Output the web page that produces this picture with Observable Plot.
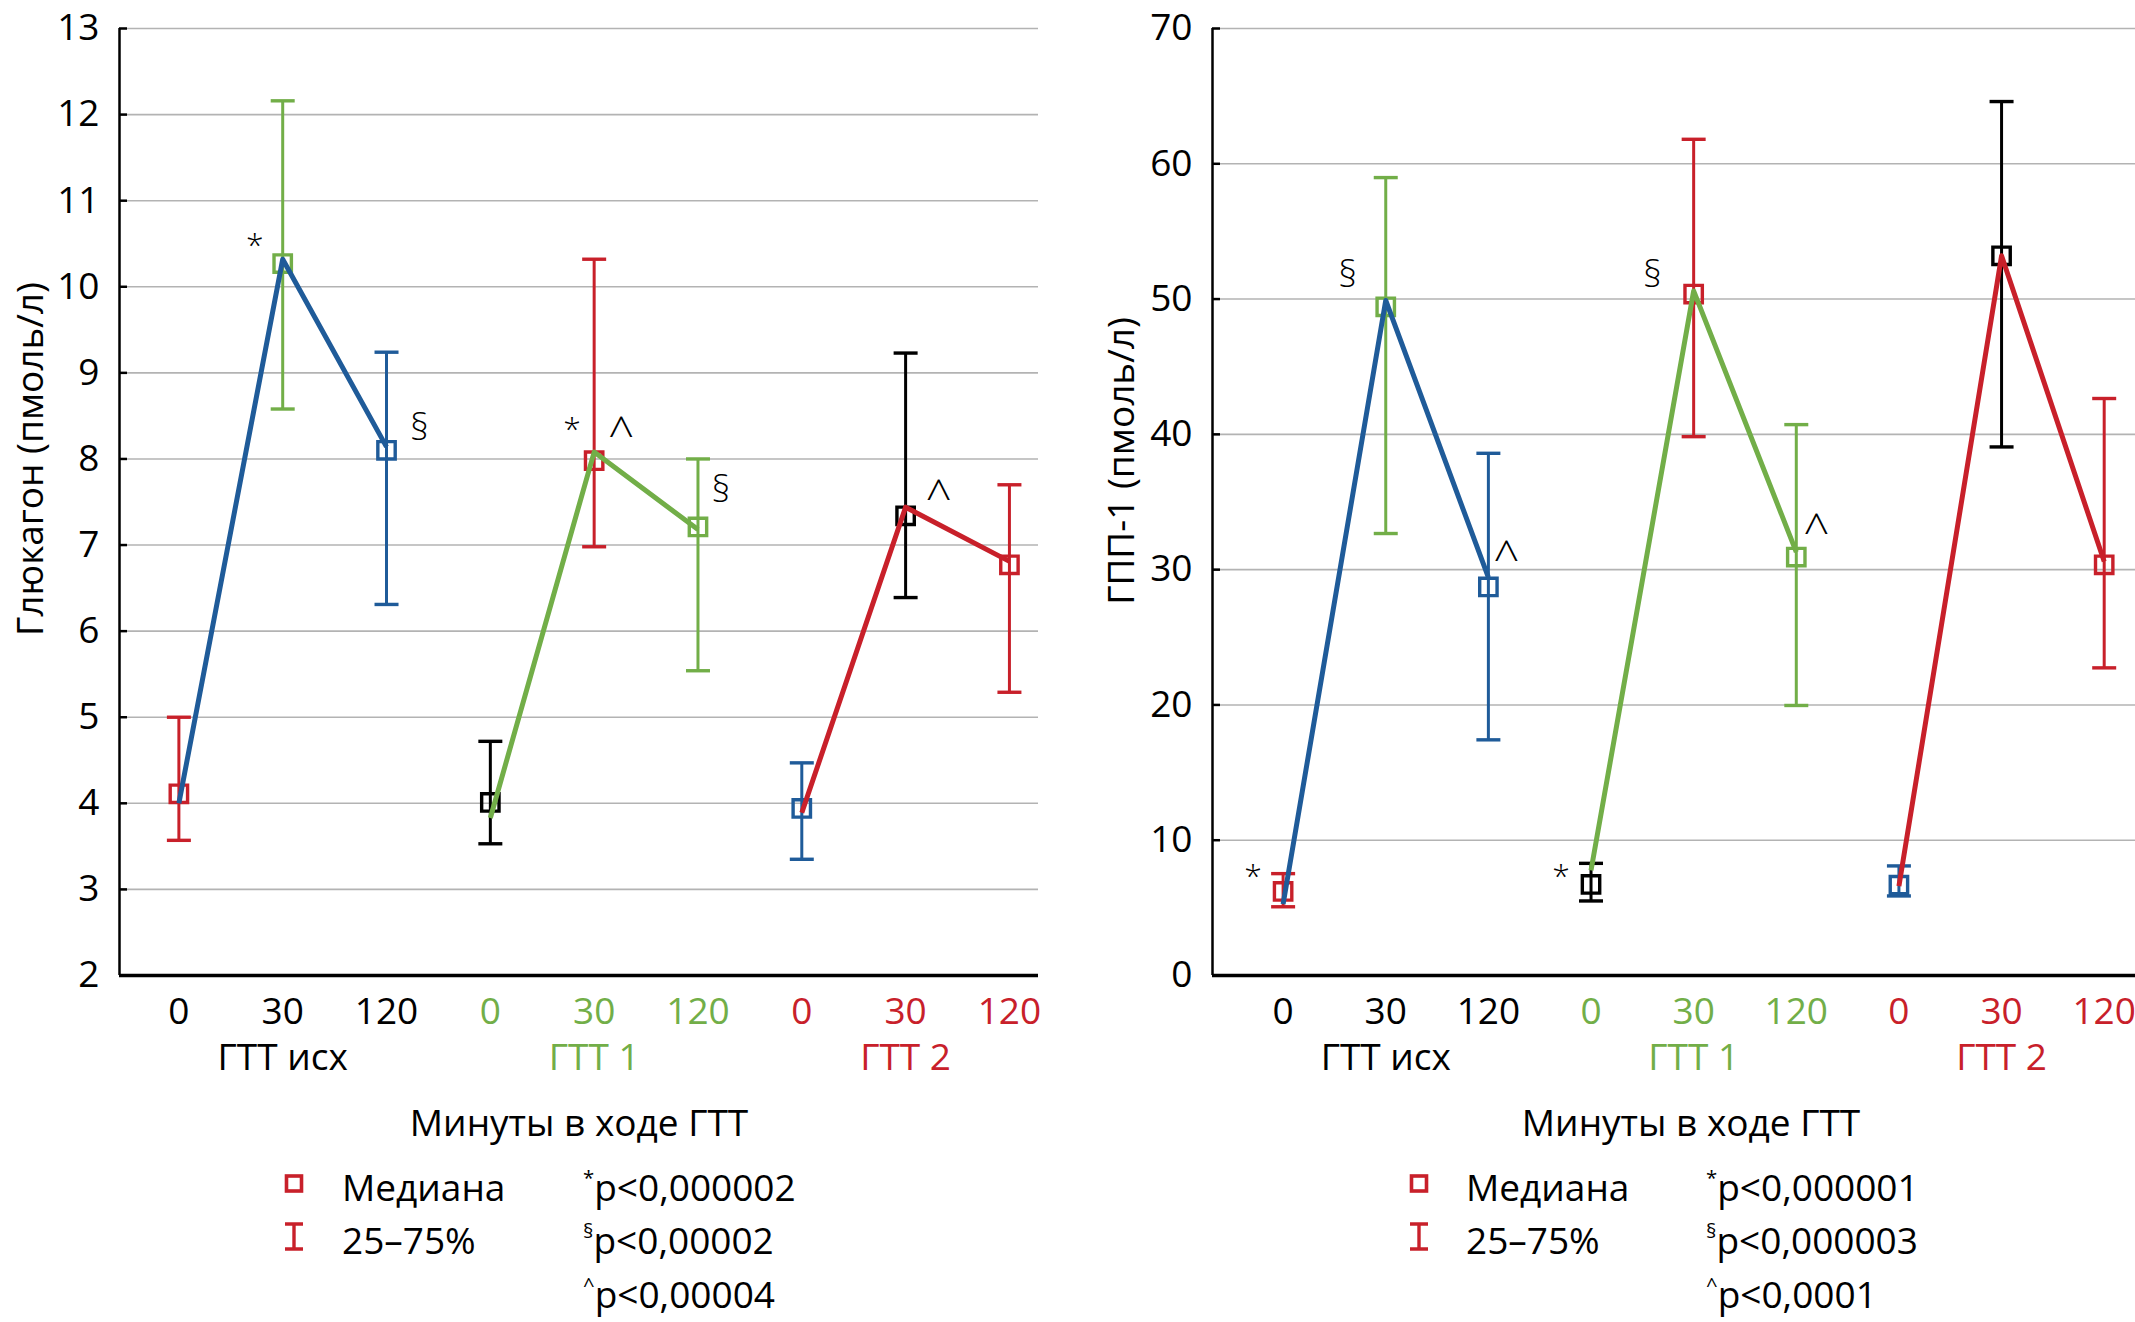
<!DOCTYPE html>
<html><head><meta charset="utf-8">
<script src="https://cdn.jsdelivr.net/npm/d3@7"></script>
<script src="https://cdn.jsdelivr.net/npm/@observablehq/plot@0.6"></script>
<style>
html,body{margin:0;padding:0;background:#fff;}
#root{position:relative;width:2135px;height:1322px;font-family:"Open Sans",sans-serif;color:#000;overflow:hidden;background:#fff;}
.panel{position:absolute;top:0;}
.t{position:absolute;font-size:37px;line-height:1;white-space:nowrap;transform:translateY(-50%);}
.c{transform:translate(-50%,-50%);}
sup{font-size:0.55em;vertical-align:0.75em;line-height:0;}
.ico{position:absolute;transform:translate(-50%,-50%);}
</style></head><body><div id="root"></div>
<script>
// ---------- data ----------
const groups = ["ГТТ исх", "ГТТ 1", "ГТТ 2"];
const minutes = ["0", "30", "120"];
const groupColors = ["#1f5b99", "#72ae48", "#c8202a"];
const labelColors = ["#000000", "#72ae48", "#c8202a"];
const pointColors = ["#c8202a", "#72ae48", "#1f5b99", "#000000", "#c8202a", "#72ae48", "#1f5b99", "#000000", "#c8202a"];

const glucagonMedian = [4.11, 10.27, 8.10, 4.01, 7.98, 7.21, 3.94, 7.34, 6.77];
const glucagonQ1     = [3.57, 8.58, 6.31, 3.53, 6.98, 5.54, 3.35, 6.39, 5.29];
const glucagonQ3     = [5.00, 12.16, 9.24, 4.72, 10.32, 8.00, 4.47, 9.23, 7.70];
const glucagonLine   = [4.00, 10.32, 8.14, 3.83, 8.08, 7.18, 3.89, 7.44, 6.81];
const glucagonTicks  = [2, 3, 4, 5, 6, 7, 8, 9, 10, 11, 12, 13];
const glucagonMarks  = [
  {i: 1, y: 10.57, s: "*"}, {i: 2, y: 8.36, s: "§"},
  {i: 4, y: 8.43, s: "*"}, {i: 4, y: 8.40, s: "^"},
  {i: 5, y: 7.64, s: "§"}, {i: 7, y: 7.67, s: "^"}
];

const glpMedian = [6.21, 49.43, 28.72, 6.73, 50.37, 30.93, 6.68, 53.2, 30.36];
const glpQ1     = [5.08, 32.67, 17.42, 5.51, 39.83, 19.96, 5.88, 39.07, 22.74];
const glpQ3     = [7.53, 58.98, 38.60, 8.29, 61.81, 40.72, 8.10, 64.6, 42.65];
const glpLine   = [5.27, 49.9, 29.42, 7.77, 50.6, 31.3, 6.6, 53.2, 30.6];
const glpTicks  = [0, 10, 20, 30, 40, 50, 60, 70];
const glpMarks  = [
  {i: 0, y: 7.9, s: "*"}, {i: 1, y: 51.75, s: "§"},
  {i: 2, y: 31.57, s: "^"}, {i: 3, y: 7.9, s: "*"},
  {i: 4, y: 51.75, s: "§"}, {i: 5, y: 33.6, s: "^"}
];

const xTitle = "Минуты в ходе ГТТ";
const legendLabels = ["Медиана", "25–75%"];
const glucagonP = [["*", "p<0,000002"], ["§", "p<0,00002"], ["^", "p<0,00004"]];
const glpP      = [["*", "p<0,000001"], ["§", "p<0,000003"], ["^", "p<0,0001"]];

// ---------- layout (styling only) ----------
const H = 1095, FRAME_BOTTOM = 975, MT = 28;
const glucagonDx = [-28, 33, -22, 27, 23, 33];
const glpDx = [-30, -38, 18, -30, -41, 20];
const glyphDy = {"*": 8, "§": 0, "^": 11};
const glyphSize = {"*": 32, "§": 37, "^": 46};

const root = document.getElementById("root");

function rowsOf(med, q1, q3, line) {
  return med.map((m, i) => ({i, g: Math.floor(i / 3), median: m, q1: q1[i], q3: q3[i], line: line[i], color: pointColors[i], gcolor: groupColors[Math.floor(i / 3)]}));
}

const capSymbol = {draw(ctx, size) { const w = Math.sqrt(size / Math.PI); ctx.moveTo(-w, 0); ctx.lineTo(w, 0); }};

function panel(cfg) {
  const rows = rowsOf(cfg.median, cfg.q1, cfg.q3, cfg.line);
  const frameW = cfg.width - cfg.marginLeft - cfg.marginRight;
  const groupRows = groups.map((name, g) => ({name, g, i: 3 * g + 1}));
  const annotMarks = cfg.marks.map((a, k) => Plot.text([a], {
    x: "i", y: "y", text: "s", dx: cfg.dx[k], dy: glyphDy[a.s], fontSize: glyphSize[a.s], fontWeight: 300, fill: "#000", lineAnchor: "middle"
  }));
  const chart = Plot.plot({
    width: cfg.width, height: H,
    marginLeft: cfg.marginLeft, marginRight: cfg.marginRight,
    marginTop: MT, marginBottom: H - FRAME_BOTTOM,
    style: {fontFamily: "Open Sans", fontSize: "37px", background: "transparent", overflow: "visible"},
    x: {type: "linear", domain: cfg.xDomain, axis: null},
    y: {domain: cfg.yDomain},
    color: {type: "identity"},
    marks: [
      Plot.ruleY(cfg.ticks, {stroke: "#b3b3b3", strokeWidth: 1.6}),
      Plot.tickY(cfg.ticks, {y: d => d, insetRight: frameW - 8, stroke: "#000", strokeWidth: 2.5}),
      Plot.axisY({ticks: cfg.ticks, tickSize: 0, tickPadding: 20, fontSize: 37, label: null}),
      Plot.ruleX([cfg.xDomain[0]], {stroke: "#000", strokeWidth: 2.5}),
      Plot.ruleY([cfg.yDomain[0]], {stroke: "#000", strokeWidth: 3.5}),
      Plot.ruleX(rows, {x: "i", y1: "q1", y2: "q3", stroke: "color", strokeWidth: 3}),
      Plot.dot(rows, {x: "i", y: "q1", symbol: capSymbol, r: 12, stroke: "color", fill: "none", strokeWidth: 3.4}),
      Plot.dot(rows, {x: "i", y: "q3", symbol: capSymbol, r: 12, stroke: "color", fill: "none", strokeWidth: 3.4}),
      Plot.dot(rows, {x: "i", y: "median", symbol: "square", r: 9.8, stroke: "color", fill: "none", strokeWidth: 3.4}),
      Plot.line(rows, {x: "i", y: "line", z: "g", stroke: "gcolor", strokeWidth: 5, strokeLinecap: "butt"}),
      ...annotMarks,
      Plot.text(rows, {x: "i", frameAnchor: "bottom", text: d => minutes[d.i % 3], fill: d => labelColors[d.g], dy: 37, fontSize: 37, lineAnchor: "middle"}),
      Plot.text(groupRows, {x: "i", frameAnchor: "bottom", text: "name", fill: d => labelColors[d.g], dy: 83, fontSize: 37, lineAnchor: "middle"}),
      Plot.text([cfg.yLabel], {frameAnchor: "left", textAnchor: "middle", lineAnchor: "middle", text: d => d, rotate: -90, dx: cfg.labelDx, dy: cfg.labelDy, fontSize: 37, fill: "#000"})
    ]
  });
  const wrap = document.createElement("div");
  wrap.className = "panel";
  wrap.style.left = cfg.left + "px";
  wrap.appendChild(chart);
  root.appendChild(wrap);
}

function text(html, x, y, cls) {
  const d = document.createElement("div");
  d.className = "t" + (cls ? " " + cls : "");
  d.style.left = x + "px"; d.style.top = y + "px";
  d.innerHTML = html;
  root.appendChild(d);
}
function icon(svg, x, y) {
  const d = document.createElement("div");
  d.className = "ico";
  d.style.left = x + "px"; d.style.top = y + "px";
  d.innerHTML = svg;
  root.appendChild(d);
}

function legend(cfg) {
  text(xTitle, cfg.titleX, 1121, "c");
  const red = groupColors[2];
  icon(`<svg width="20" height="20"><rect x="2.5" y="2.5" width="15" height="15" fill="none" stroke="${red}" stroke-width="3.6"/></svg>`, cfg.iconX, 1186);
  icon(`<svg width="22" height="30"><line x1="11" y1="2" x2="11" y2="28" stroke="${red}" stroke-width="3.4"/><line x1="2" y1="2.5" x2="20" y2="2.5" stroke="${red}" stroke-width="3.6"/><line x1="2" y1="27.5" x2="20" y2="27.5" stroke="${red}" stroke-width="3.6"/></svg>`, cfg.iconX, 1239);
  text(legendLabels[0], cfg.textX, 1186);
  text(legendLabels[1], cfg.textX, 1239);
  const ys = [1186, 1239, 1293];
  cfg.p.forEach(([s, t], k) => text(`<sup>${s}</sup>${t}`, cfg.pX, ys[k]));
}

panel({left: 0, width: 1070, marginLeft: 119, marginRight: 32, xDomain: [-0.572, 8.28], yDomain: [2, 13],
  ticks: glucagonTicks, median: glucagonMedian, q1: glucagonQ1, q3: glucagonQ3, line: glucagonLine,
  marks: glucagonMarks, dx: glucagonDx, yLabel: "Глюкагон (пмоль/л)", labelDx: -88, labelDy: -43});
panel({left: 1070, width: 1065, marginLeft: 142, marginRight: 0, xDomain: [-0.688, 8.305], yDomain: [0, 70],
  ticks: glpTicks, median: glpMedian, q1: glpQ1, q3: glpQ3, line: glpLine,
  marks: glpMarks, dx: glpDx, yLabel: "ГПП-1 (пмоль/л)", labelDx: -90, labelDy: -41});

legend({titleX: 579, iconX: 294, textX: 342, pX: 583, p: glucagonP});
legend({titleX: 1691, iconX: 1419, textX: 1466, pX: 1706, p: glpP});
</script>
</body></html>
